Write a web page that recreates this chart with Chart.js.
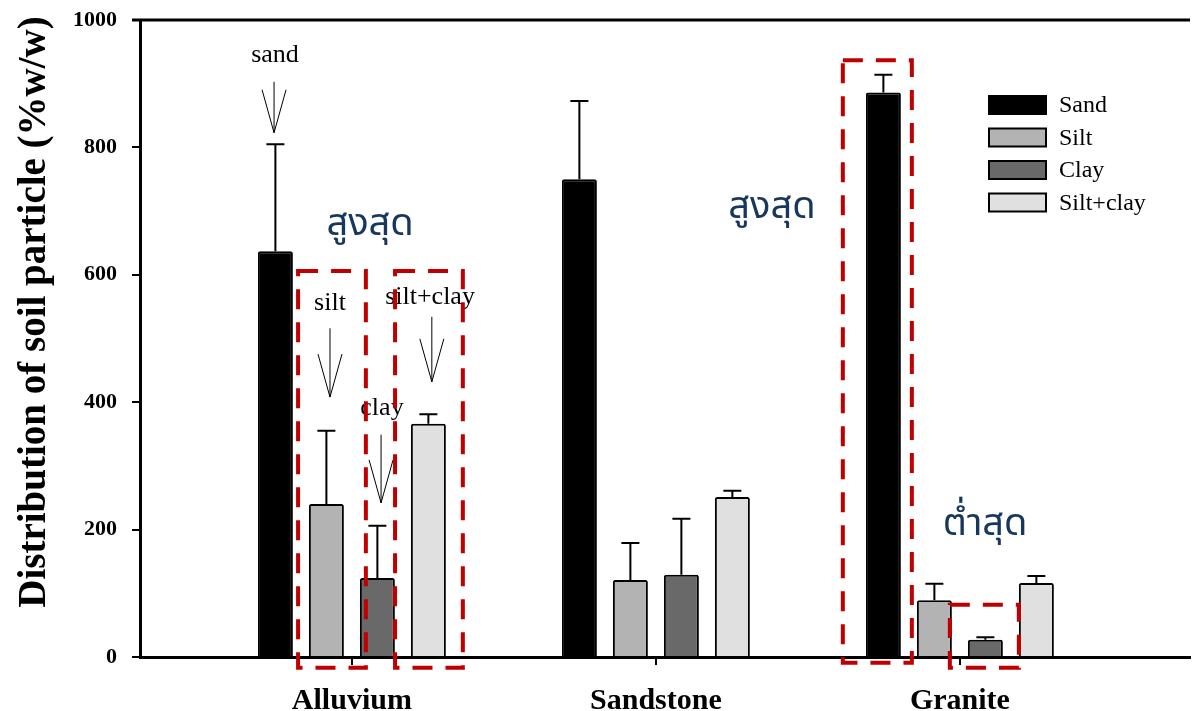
<!DOCTYPE html>
<html><head><meta charset="utf-8">
<script src="https://cdn.jsdelivr.net/npm/chart.js@4.4.1/dist/chart.umd.min.js"></script>
<style>html,body{margin:0;padding:0;background:#fff}#wrap{width:1196px;height:711px;position:relative}</style>
</head><body><div id="wrap"><canvas id="c" width="1196" height="711"></canvas></div>
<script>
// ---- data ----
const categories = ['Alluvium', 'Sandstone', 'Granite'];
const seriesNames = ['Sand', 'Silt', 'Clay', 'Silt+clay'];
const sand = [637, 750, 886];
const sandErr = [168, 123, 28];
const silt = [240, 121, 89];
const siltErr = [115, 58, 26];
const clay = [124, 129, 27];
const clayErr = [82, 88, 4];
const siltClay = [366, 251, 116];
const siltClayErr = [15, 10, 11];
const yTicks = [0, 200, 400, 600, 800, 1000];
const yTitle = 'Distribution of soil particle (%w/w)';
const noteLabels = ['sand', 'silt', 'clay', 'silt+clay'];
const thaiHigh = 'สูงสุด';
const thaiLow = 'ต่ำสุด';

// ---- placement of annotations (axis units) ----
const notePos = [[0.747, 945], [0.928, 556], [1.099, 391], [1.257, 565]];
const arrowPos = [[0.744, 903, 823], [0.928, 516, 408], [1.096, 349, 242], [1.263, 534, 432]];
const thaiPos = [[thaiHigh, 1.060, 675], [thaiHigh, 2.382, 702], [thaiLow, 3.083, 203]];
const boxPos = [[0.823, 1.046, -17, 606], [1.142, 1.365, -17, 606], [2.615, 2.842, -9, 937], [2.967, 3.194, -17, 82]];

const colors = ['#000000', '#b3b3b3', '#696969', '#e0e0e0'];
const values = [sand, silt, clay, siltClay];
const errs = [sandErr, siltErr, clayErr, siltClayErr];
const SERIF = '"Liberation Serif", "Times New Roman", serif';

const datasets = seriesNames.map((n, k) => ({
  label: n,
  data: values[k].map((v, i) => ({ x: i + 1, y: v })),
  errors: errs[k],
  backgroundColor: colors[k],
  borderColor: '#000',
  borderWidth: 2,
  borderRadius: 2,
  borderSkipped: 'bottom',
  categoryPercentage: 0.671,
  barPercentage: 0.686
}));

const overlay = {
  id: 'overlay',
  afterDatasetsDraw(chart) {
    const ctx = chart.ctx, xs = chart.scales.x, ys = chart.scales.y, ca = chart.chartArea;
    const X = v => xs.getPixelForValue(v), Y = v => ys.getPixelForValue(v);
    // error bars
    chart.data.datasets.forEach((ds, di) => {
      const meta = chart.getDatasetMeta(di);
      meta.data.forEach((bar, i) => {
        const top = Y(ds.data[i].y + ds.errors[i]);
        ctx.save();
        ctx.strokeStyle = '#000'; ctx.lineWidth = 2;
        ctx.beginPath();
        ctx.moveTo(bar.x, bar.y); ctx.lineTo(bar.x, top);
        ctx.moveTo(bar.x - 9, top); ctx.lineTo(bar.x + 9, top);
        ctx.stroke(); ctx.restore();
      });
    });
    // top frame line
    ctx.save();
    ctx.strokeStyle = '#000'; ctx.lineWidth = 3;
    ctx.beginPath(); ctx.moveTo(ca.left - 8, ca.top); ctx.lineTo(ca.right, ca.top); ctx.stroke();
    ctx.restore();
    // note labels
    ctx.save();
    ctx.fillStyle = '#000'; ctx.font = '26px ' + SERIF;
    ctx.textAlign = 'center'; ctx.textBaseline = 'middle';
    noteLabels.forEach((t, i) => ctx.fillText(t, X(notePos[i][0]), Y(notePos[i][1])));
    // arrows
    ctx.strokeStyle = '#000'; ctx.lineWidth = 1;
    arrowPos.forEach(a => {
      const x = X(a[0]), y0 = Y(a[1]), y1 = Y(a[2]);
      ctx.beginPath();
      ctx.moveTo(x, y0); ctx.lineTo(x, y1);
      ctx.moveTo(x - 12, y1 - 43); ctx.lineTo(x, y1); ctx.lineTo(x + 12, y1 - 43);
      ctx.stroke();
    });
    // thai labels
    ctx.fillStyle = '#17375e';
    ctx.font = '38px "Noto Sans Thai", "Noto Sans", "DejaVu Sans", sans-serif';
    thaiPos.forEach(p => ctx.fillText(p[0], X(p[1]), Y(p[2])));
    // dashed boxes
    ctx.strokeStyle = '#c00000'; ctx.lineWidth = 4; ctx.setLineDash([20, 13]);
    boxPos.forEach(b => {
      const x0 = X(b[0]), x1 = X(b[1]), y0 = Y(b[3]), y1 = Y(b[2]);
      ctx.strokeRect(x0, y0, x1 - x0, y1 - y0);
    });
    ctx.setLineDash([]);
    // legend
    ctx.font = '24px ' + SERIF; ctx.textAlign = 'left'; ctx.textBaseline = 'middle';
    chart.data.datasets.forEach((ds, i) => {
      const cy = 105 + i * 32.5;
      ctx.fillStyle = ds.backgroundColor;
      ctx.fillRect(989, cy - 9, 57, 18);
      ctx.strokeStyle = '#000'; ctx.lineWidth = 2;
      ctx.strokeRect(989, cy - 9, 57, 18);
      ctx.fillStyle = '#000';
      ctx.fillText(ds.label, 1059, cy + 1);
    });
    // y title
    ctx.translate(45, 312); ctx.rotate(-Math.PI / 2);
    ctx.font = 'bold 39px ' + SERIF; ctx.textAlign = 'center'; ctx.textBaseline = 'alphabetic';
    ctx.fillStyle = '#000';
    ctx.fillText(yTitle, 0, 0);
    ctx.restore();
  }
};

new Chart(document.getElementById('c'), {
  type: 'bar',
  data: { datasets },
  plugins: [overlay],
  options: {
    responsive: false,
    animation: false,
    layout: { padding: { left: 0, top: 20, right: 6, bottom: 0 } },
    plugins: { legend: { display: false }, tooltip: { enabled: false } },
    scales: {
      x: {
        type: 'linear', min: 0.303, max: 3.757, offset: false,
        afterBuildTicks: s => { s.ticks = categories.map((c, i) => ({ value: i + 1 })); },
        afterFit: s => { s.height = 54; },
        grid: { drawOnChartArea: false, offset: false, tickLength: 8, color: '#000', lineWidth: 2 },
        border: { display: true, color: '#000', width: 3 },
        ticks: {
          autoSkip: false, maxRotation: 0, padding: 18, color: '#000',
          font: { family: SERIF, size: 30, weight: 'bold' },
          callback: v => categories[Math.round(v) - 1] || ''
        }
      },
      y: {
        min: 0, max: 1000,
        afterBuildTicks: s => { s.ticks = yTicks.map(v => ({ value: v })); },
        afterFit: s => { s.width = 140; },
        grid: { drawOnChartArea: false, tickLength: 8, color: '#000', lineWidth: 2 },
        border: { display: true, color: '#000', width: 3 },
        ticks: {
          padding: 15, color: '#000', font: { family: SERIF, size: 22, weight: 'bold', lineHeight: 0.4 },
          callback: v => String(v)
        }
      }
    }
  }
});
</script></body></html>
